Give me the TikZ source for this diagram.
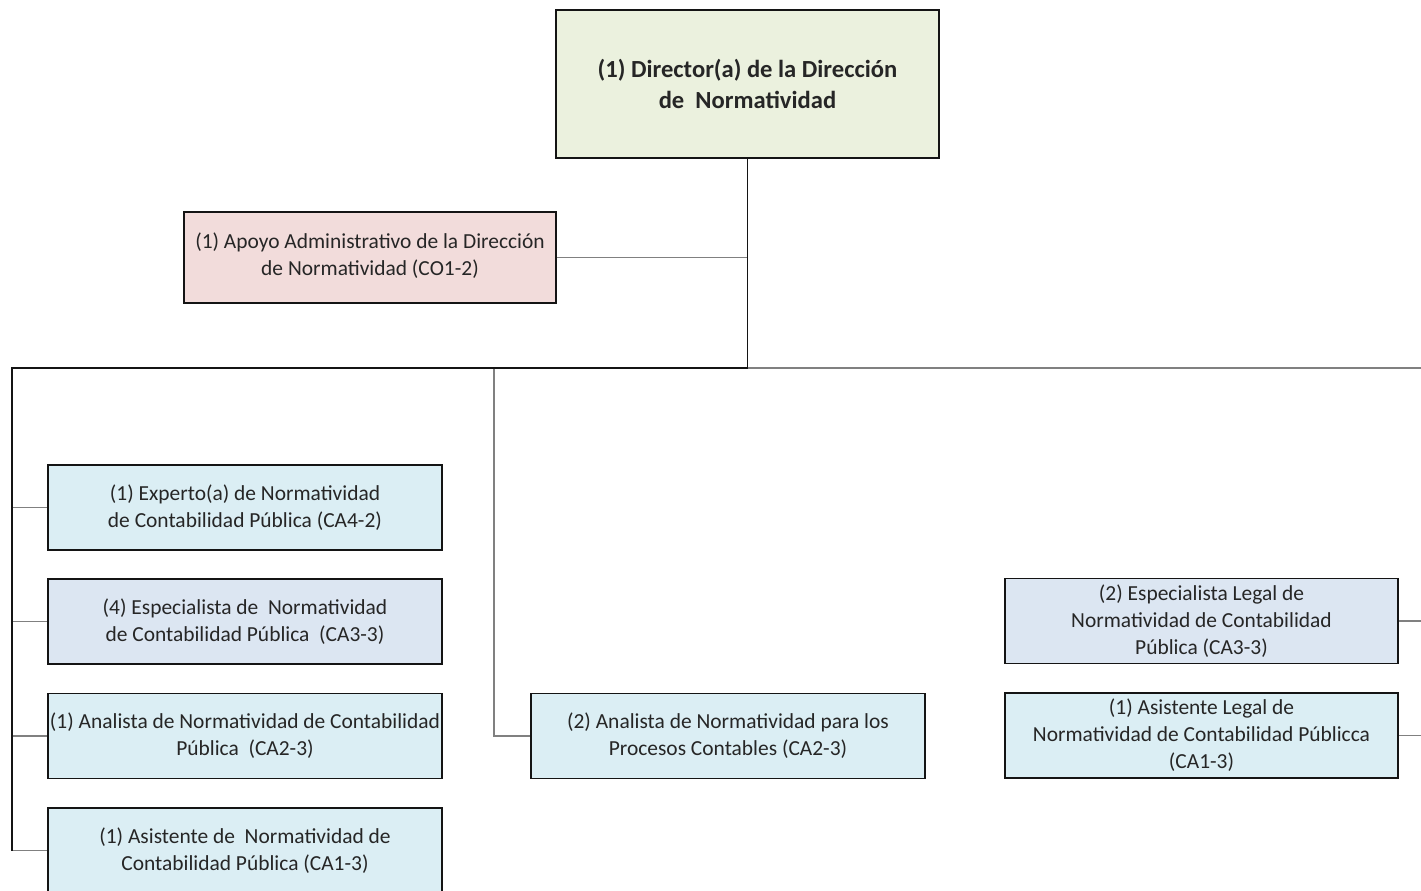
\documentclass[tikz,border=0pt]{standalone}
\usepackage{fontspec}
\setmainfont{Carlito}
\usetikzlibrary{positioning}
\definecolor{orgdark}{RGB}{20,20,20}
\definecolor{orggray}{RGB}{128,128,128}
\definecolor{orggreen}{RGB}{235,241,222}
\definecolor{orgpink}{RGB}{242,220,219}
\definecolor{orgblue}{RGB}{219,238,244}
\definecolor{orglav}{RGB}{220,230,242}
\definecolor{orgtext}{RGB}{38,38,38}

\tikzset{
  unit/.style={draw=orgdark, line width=1.1pt, text=orgtext, align=center, font=\fontsize{12.2}{15.4}\selectfont, inner sep=1pt},
  posbox/.style={unit, fill=orgblue, minimum width=7.88cm, minimum height=1.70cm},
  legbox/.style={unit, fill=orglav, minimum width=7.88cm, minimum height=1.70cm},
  mainline/.style={draw=orgdark, line width=1.1pt},
  subline/.style={draw=orggray, line width=0.8pt}
}

\begin{document}
\begin{tikzpicture}

\useasboundingbox (0,0) rectangle (28.42,-17.8);

% Head of the unit
\node[unit, fill=orggreen, minimum width=7.66cm, minimum height=2.96cm, font=\fontsize{14}{17.2}\selectfont\bfseries] (dir) at (14.95,-1.68) {(1) Director(a) de la Dirección\\de~~Normatividad};

% Staff support
\node[unit, fill=orgpink, minimum width=7.44cm, minimum height=1.82cm, text depth=0.15cm] (apoyo) at (7.40,-5.15) {(1) Apoyo Administrativo de la Dirección\\de Normatividad (CO1-2)};

% Bus coordinates
\coordinate (busL) at (0.24,-7.36);
\coordinate (busM) at (9.88,-7.36);
\coordinate (busR) at (28.42,-7.36);

% Left column
\node[posbox] (exp) at (4.90,-10.15) {(1) Experto(a) de Normatividad\\de Contabilidad Pública (CA4-2)};
\node[legbox] (esp) at (4.90,-12.43) {(4) Especialista de~~Normatividad\\de Contabilidad Pública~~(CA3-3)};
\node[posbox] (ana) at (4.90,-14.72) {(1) Analista de Normatividad de Contabilidad\\Pública~~(CA2-3)};
\node[posbox] (asis) at (4.90,-17.01) {(1) Asistente de~~Normatividad de\\Contabilidad Pública (CA1-3)};

% Middle column
\node[posbox] (anap) at (14.56,-14.72) {(2) Analista de Normatividad para los\\Procesos Contables (CA2-3)};

% Right column
\node[legbox, minimum width=7.86cm] (espl) at (24.03,-12.42) {(2) Especialista Legal de\\Normatividad de Contabilidad\\Pública (CA3-3)};
\node[posbox, minimum width=7.86cm] (asisl) at (24.03,-14.71) {(1) Asistente Legal de\\Normatividad de Contabilidad Públicca\\(CA1-3)};

% Connectors
\draw[subline] (apoyo.east) -- (apoyo.east -| dir.south);
\draw[subline] (dir.south |- busL) -- (busR);
\draw[subline] (busM) |- (anap.west);
\foreach \n in {exp,esp,ana,asis}
  \draw[subline] (busL |- \n.west) -- (\n.west);
\foreach \n in {espl,asisl}
  \draw[subline] (\n.east) -- (\n.east -| busR);
\draw[mainline] (dir.south) -- (dir.south |- busL) -- (busL) -- (busL |- asis.west);

\end{tikzpicture}
\end{document}
